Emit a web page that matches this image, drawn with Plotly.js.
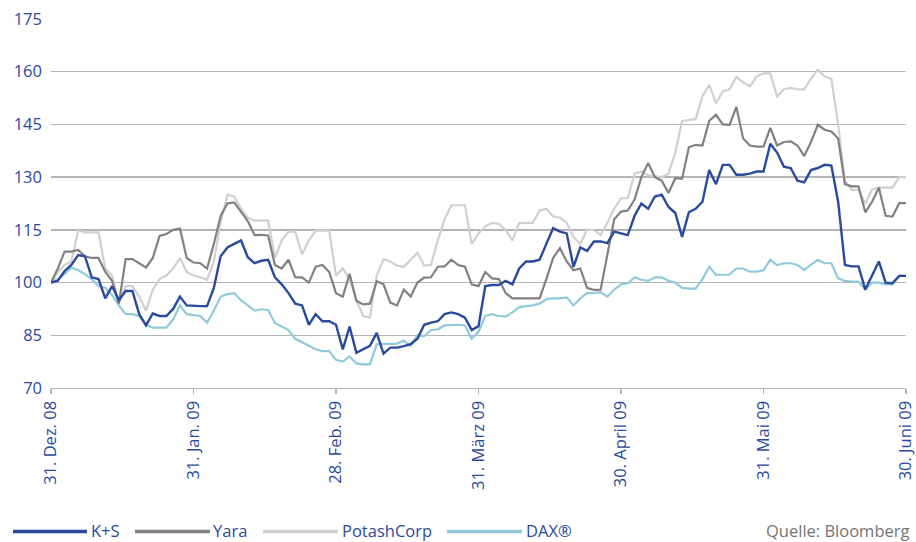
<!DOCTYPE html>
<html>
<head>
<meta charset="utf-8">
<script src="https://cdn.plot.ly/plotly-3.0.1.min.js"></script>
<style>html,body{margin:0;padding:0;background:#fff}#chart{width:916px;height:542px}</style>
</head>
<body>
<div id="chart"></div>
<script>
// Trading-day index (0 = 31. Dez. 08, 126 = 30. Juni 09)
const tickPositions = [0, 21, 42, 63, 84, 105, 126];
const tickLabels = ["31. Dez. 08", "31. Jan. 09", "28. Feb. 09", "31. März 09", "30. April 09", "31. Mai 09", "30. Juni 09"];
const yTickValues = [70, 85, 100, 115, 130, 145, 160, 175];

const seriesNames = ["K+S", "Yara", "PotashCorp", "DAX®"];

const ksValues = [100,100.5,103.3,105,107.8,107.5,101.5,101,95.5,99,95,97.6,97.6,91,87.8,91.2,90.5,90.5,92.5,96,93.5,
93.3,93.3,93.3,98.5,107.5,110,111,112,107.2,105.5,106.2,106.5,101.5,99.5,97,94,93.5,88,91,89,89,88,
81,87.5,80,81,82,85.7,79.8,81.5,81.5,81.9,82.5,84,88,88.6,89,91,91.5,91,90,86.5,87.6,
99,99.3,99.3,100.5,99.5,104,106,106,106.5,111,115.5,114.5,114,104.5,110,109,111.7,111.7,111.2,114.5,114,113.5,
119,122.5,121,124.5,125,121.5,119.8,113,120,121,123,132,128,133.5,133.5,130.7,130.7,131,131.6,131.6,
139.5,137,133,132.6,129,128.5,132,132.6,133.5,133.3,123,105,104.6,104.6,98,102,106,100,99.8,101.9,101.9];

const yaraValues = [100,104,108.8,108.8,109.3,107.5,107,107,103,100.5,94,106.7,106.7,105.5,104.3,107,113.3,113.8,115,115.4,107,
105.7,105.5,104,111,119,122.5,122.8,120,117.5,113.5,113.6,113.4,105,104,106.5,101.5,101.5,100,104.5,105,103,97,
96,102.5,94.8,93.8,94,100.4,99.5,94.3,93.5,98,96,100,101.4,101.5,104.5,104.6,106.5,105,104.5,99.5,99,
103,101.2,101,97,95.5,95.5,95.5,95.5,95.5,101,107,109.8,106,103.5,104,98.5,97.9,98,108,118,120.2,120.5,
123.6,130,134,130,129,125.5,129.7,129.5,138.5,139.2,139,146,147.8,145,144.9,150,141,139,138.7,138.7,
144,139,140,140.2,139,136,140,144.9,143.5,143,141,128,127.4,127.4,120,123,127,119,118.8,122.6,122.6];

const potashValues = [100,103,105,106,114.8,114.3,114.3,114.3,104,102,94,99,99,96,92,98,101,102,104,107,103,
102,101.5,100.8,106,117,125,124.5,121,118.5,117.6,117.6,117.6,107,112,114.5,114.5,108,112,114.8,114.8,114.8,102,
104,101,95,90.5,90,102,106.7,106,104.8,104.5,106.5,108.5,104.8,105,112,118,122,122,122,111,114,
116,117,116.7,115,112,116.9,117,117,120.5,121,118.8,118.5,117,113,111,115,115,113.5,117,121,124,124,
131,131.6,130.5,130.2,130,131,137,146,146.3,146.5,153,156.3,151,154.4,155,158.5,157,155.8,158.7,159.5,
159.5,153,155,155.4,155,155,158,160.6,158.7,158,145,129,126.4,126.4,122.5,126.5,127,127,127,130,130];

const daxValues = [100,101,102.5,104.3,103.5,102.4,101,99,98.5,96.5,93.5,91,91,90.5,88,87.2,87.2,87.2,89.5,93.5,91,
90.7,90.5,88.6,92,96,96.7,97,95,93.5,92,92.4,92.2,88.5,87.6,86.5,84,83,82,81,80.5,80.5,78,
77.5,79,77,76.7,76.7,82.4,82.4,82.4,82.6,83.5,82,85,84.8,86.5,86.7,87.8,88,88,87.8,84,86,
90.5,91,90.5,90.3,91.5,93,93.2,93.5,94,95.3,95.5,95.5,95.8,93.5,95.5,97,97,97.3,96,98,99.5,99.8,
101.5,100.8,100.5,101.5,101.5,100.5,100,98.5,98.3,98.3,101,104.5,102.2,102.2,102.3,104,104,103.1,103.1,103.5,
106.5,105,105.5,105.5,105,103.6,105,106.5,105.5,105.5,101.2,100.5,100.3,100.3,98,100,100,99.5,99.5,101.9,101.9];

const colors = {ks: "#2a4a9d", yara: "#818181", potash: "#d0d0d0", dax: "#90cbdb"};
const idx = ksValues.map((_, i) => i);

const FONT = "Open Sans, Noto Sans, sans-serif";
const FS = 16.5;
const BLUE_TXT = "#2b4a9e";

function mk(name, y, color, width) {
  return {x: idx, y: y, name: name, type: "scatter", mode: "lines",
          line: {color: color, width: width}, showlegend: false, hoverinfo: "skip"};
}
const traces = [
  mk(seriesNames[2], potashValues, colors.potash, 2.2),
  mk(seriesNames[3], daxValues, colors.dax, 2.2),
  mk(seriesNames[1], yaraValues, colors.yara, 2.2),
  mk(seriesNames[0], ksValues, colors.ks, 2.4)
];

// plot area in px: left 51, right 906, top 19, bottom 388
const L = 51, R = 906, T = 19, B = 388;
const px = v => (v - L) / (R - L);
const py = v => (B - v) / (B - T);

const legendItems = [
  {name: seriesNames[0], color: colors.ks, x0: 13, x1: 87, tx: 90},
  {name: seriesNames[1], color: colors.yara, x0: 135, x1: 210, tx: 212},
  {name: seriesNames[2], color: colors.potash, x0: 263, x1: 338, tx: 341},
  {name: seriesNames[3], color: colors.dax, x0: 447, x1: 522, tx: 525}
];
const legLineY = 531.5;
const legTextY = 530;
const shapes = legendItems.map(it => ({type: "line", xref: "paper", yref: "paper",
  x0: px(it.x0), x1: px(it.x1), y0: py(legLineY), y1: py(legLineY), line: {color: it.color, width: 3.5}}));
const annotations = legendItems.map(it => ({xref: "paper", yref: "paper", x: px(it.tx), y: py(legTextY),
  xanchor: "left", yanchor: "middle", showarrow: false, text: it.name, borderpad: 0,
  font: {family: FONT, size: FS, color: BLUE_TXT}}));
annotations.push({xref: "paper", yref: "paper", x: px(910), y: py(legTextY), xanchor: "right", yanchor: "middle",
  showarrow: false, text: "Quelle: Bloomberg", borderpad: 0, font: {family: FONT, size: FS, color: "#747474"}});

const layout = {
  width: 916, height: 542,
  margin: {l: L, r: 916 - R, t: T, b: 542 - B, pad: 0},
  paper_bgcolor: "#ffffff", plot_bgcolor: "#ffffff",
  showlegend: false,
  font: {family: FONT, size: FS, color: BLUE_TXT},
  xaxis: {
    range: [0, 126], tickmode: "array", tickvals: tickPositions, ticktext: tickLabels,
    tickangle: -90, showgrid: false, zeroline: false, ticklabeloverflow: "allow",
    showline: true, linecolor: "#b4b4b4", linewidth: 1.3,
    ticks: "outside", ticklen: 5, tickcolor: "#b4b4b4", tickwidth: 1.3,
    tickfont: {family: FONT, size: FS, color: BLUE_TXT}, fixedrange: true
  },
  yaxis: {
    range: [70, 175], tickmode: "array", tickvals: yTickValues,
    showgrid: true, gridcolor: "#b4b4b4", gridwidth: 1.3, zeroline: false, showline: false,
    ticks: "", ticklabelstandoff: 8,
    tickfont: {family: FONT, size: FS, color: BLUE_TXT}, fixedrange: true
  },
  shapes: shapes,
  annotations: annotations
};

Plotly.newPlot("chart", traces, layout, {displayModeBar: false, staticPlot: true});
</script>
</body>
</html>
